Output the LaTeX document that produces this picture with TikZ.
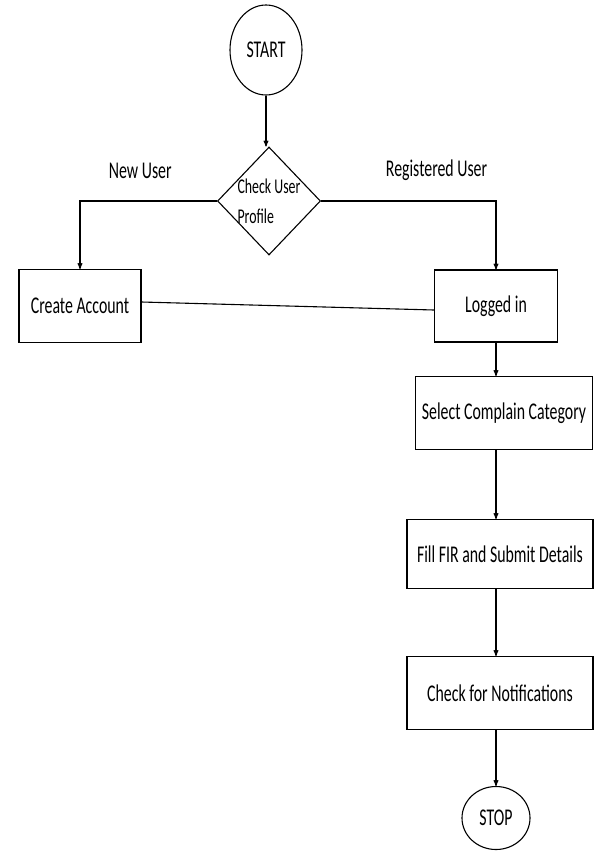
\documentclass[tikz,border=0pt]{standalone}
\usepackage{fontspec}
\setmainfont{Carlito}[FakeStretch=0.66]
\usetikzlibrary{arrows,shapes.geometric}

\begin{document}
\begin{tikzpicture}[x=1pt,y=-1pt,>=stealth',line width=1.1pt,
    font=\fontsize{24}{28}\selectfont,
    term/.style={draw,ellipse,inner sep=0pt},
    box/.style={draw,rectangle,inner sep=0pt},
    decision/.style={draw,diamond,minimum width=103pt,minimum height=108pt,inner sep=0pt}]
  \useasboundingbox (0,0) rectangle (595,852);

  \node[term,minimum width=72pt,minimum height=90pt] (start) at (266,50) {START};
  \node[decision] (profile) at (269,201) {};
  \node[align=left,font=\fontsize{21}{30}\selectfont] (profiletxt) at (profile) {Check User\\Profile};

  \node[box,minimum width=122pt,minimum height=73pt] (create) at (80,306) {Create Account};
  \node[box,minimum width=123pt,minimum height=72pt] (logged) at (496,306) {Logged in};
  \node[box,minimum width=177pt,minimum height=73pt] (select) at (504,413) {Select Complain Category};
  \node[box,minimum width=186pt,minimum height=69pt] (fill) at (500,554) {Fill FIR and Submit Details};
  \node[box,minimum width=186pt,minimum height=73pt] (notify) at (500,693) {Check for Notifications};
  \node[term,minimum width=68pt,minimum height=63pt] (stop) at (496,818) {STOP};

  \path[->]
    (start) edge (start |- profile.north)
    (logged) edge (logged |- select.north)
    (logged |- select.south) edge (logged |- fill.north)
    (logged |- fill.south) edge (logged |- notify.north)
    (stop |- notify.south) edge (stop)
    ;
  \draw[->] (profile.west) -| node[pos=0.28,above=18pt] {New User} (create.north);
  \draw[->] (profile.east) -| node[pos=0.33,above=16pt] {Registered User} (logged.north);
  \draw ([yshift=4pt]create.east) -- ([yshift=-4pt]logged.west);
\end{tikzpicture}
\end{document}
